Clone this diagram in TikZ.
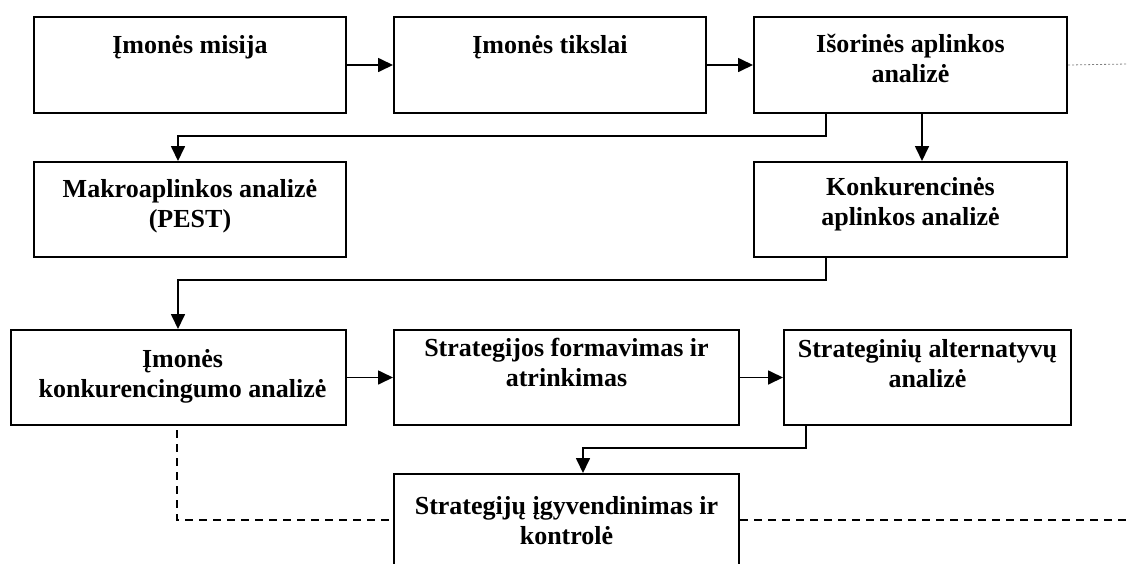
\documentclass[tikz,border=0pt]{standalone}
\usepackage{fontspec}
\setmainfont{Liberation Serif}
\usetikzlibrary{arrows.meta,calc}
\newcommand\twol[2]{\vtop{\baselineskip=30.5pt\halign{\hfil##\hfil\cr#1\cr#2\cr}}}
\begin{document}
\begin{tikzpicture}[x=1pt,y=1pt,
  box/.style={draw,line width=2pt,inner sep=0pt,anchor=north west},
  lbl/.style={anchor=base,inner sep=0pt,font=\fontsize{26}{30.5}\selectfont\bfseries},
  arr/.style={line width=1.7pt,-{Triangle[length=15pt,width=14pt]}},
  dsh/.style={line width=1.7pt,dash pattern=on 8pt off 6pt},
  dot/.style={line width=0.8pt,gray,dash pattern=on 2pt off 2pt}]
\clip (0,0) rectangle (1127,-563);
\useasboundingbox (0,0) rectangle (1127,-563);
% boxes
\node[box,minimum width=312,minimum height=96] (b1) at (33,-16) {};
\node[box,minimum width=312,minimum height=96] (b2) at (393,-16) {};
\node[box,minimum width=313,minimum height=96] (b3) at (753,-16) {};
\node[box,minimum width=312,minimum height=95] (b4) at (33,-161) {};
\node[box,minimum width=313,minimum height=95] (b5) at (753,-161) {};
\node[box,minimum width=335,minimum height=95] (b6) at (10,-329) {};
\node[box,minimum width=345,minimum height=95] (b7) at (393,-329) {};
\node[box,minimum width=287,minimum height=95] (b8) at (783,-329) {};
\node[box,minimum width=345,minimum height=140] (b9) at (393,-473) {};
% labels
\node[lbl] (t1) at ($(b1.north)+(0,-53+16)$) {Įmonės misija};
\node[lbl] (t2) at ($(b2.north)+(0,-53+16)$) {Įmonės tikslai};
\node[lbl] (t3) at ($(b3.north)+(0,-52+16)$) {\twol{Išorinės aplinkos}{analizė}};
\node[lbl] (t4) at ($(b4.north)+(0,-197+161)$) {\twol{Makroaplinkos analizė}{(PEST)}};
\node[lbl] (t5) at ($(b5.north)+(0,-195+161)$) {\twol{Konkurencinės}{aplinkos analizė}};
\node[lbl] (t6) at ($(b6.north)+(4,-367+329)$) {\twol{Įmonės}{konkurencingumo analizė}};
\node[lbl] (t7) at ($(b7.north)+(0,-356+329)$) {\twol{Strategijos formavimas ir}{atrinkimas}};
\node[lbl] (t8) at ($(b8.north)+(0,-357+329)$) {\twol{Strateginių alternatyvų}{analizė}};
\node[lbl] (t9) at ($(b9.north)+(0,-514+473)$) {\twol{Strategijų įgyvendinimas ir}{kontrolė}};
% connectors
\draw[arr] (b1.east) -- (b2.west);
\draw[arr] (b2.east) -- (b3.west);
\coordinate (dotend) at (1127,-64);
\draw[dot] (b3.east) -- (dotend);
\coordinate (j1) at (826,-136);
\coordinate (j2) at (178,-136);
\draw[arr] (b3.south -| j1) -- (j1) -- (j2) -- (j2 |- b4.north);
\draw[arr] ([xshift=11.5pt]b3.south) -- ([xshift=11.5pt]b5.north);
\coordinate (j3) at (826,-280);
\coordinate (j4) at (178,-280);
\draw[arr] (b5.south -| j3) -- (j3) -- (j4) -- (j4 |- b6.north);
\draw[arr] (b6.east) -- (b7.west);
\draw[arr] (b7.east) -- (b8.west);
\coordinate (j5) at (806,-448);
\coordinate (j6) at (583,-448);
\draw[arr] (b8.south -| j5) -- (j5) -- (j6) -- (j6 |- b9.north);
\coordinate (d1) at (177,-430);
\coordinate (d2) at (177,-520);
\coordinate (d3) at (1127,-520);
\draw[dsh] (d1) -- (d2) -- (d2 -| b9.west);
\draw[dsh] (d3 -| b9.east) -- (d3);
\end{tikzpicture}
\end{document}
